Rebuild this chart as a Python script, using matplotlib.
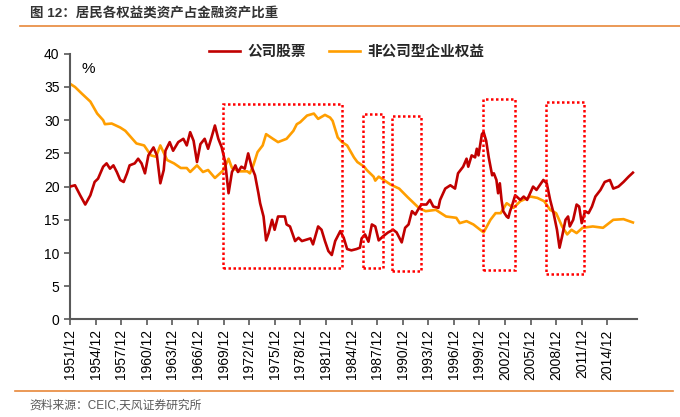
import matplotlib
matplotlib.use("Agg")
import matplotlib.pyplot as plt
from matplotlib.patches import Rectangle

plt.rcParams['font.family'] = ['Liberation Sans', 'Noto Sans CJK SC']

# share of corporate equities (%)
stock_years = [
    1951.9, 1952.5, 1953.1, 1953.7, 1954.3, 1954.8, 1955.2, 1955.8, 1956.2, 1956.6,
    1957.0, 1957.4, 1957.8, 1958.2, 1958.6, 1958.9, 1959.5, 1959.9, 1960.3, 1960.7,
    1961.1, 1961.7, 1962.1, 1962.5, 1962.9, 1963.1, 1963.6, 1964.0, 1964.6, 1965.2,
    1965.6, 1966.0, 1966.4, 1966.8, 1967.2, 1967.7, 1968.1, 1968.5, 1968.9, 1969.3,
    1969.7, 1970.1, 1970.5, 1970.9, 1971.3, 1971.6, 1972.0, 1972.4, 1972.8, 1973.2,
    1973.6, 1974.0, 1974.2, 1974.6, 1974.9, 1975.2, 1975.6, 1975.9, 1976.3, 1977.1,
    1977.3, 1977.7, 1978.3, 1978.7, 1979.1, 1980.1, 1980.4, 1981.0, 1981.4, 1981.8,
    1982.2, 1982.6, 1983.0, 1983.6, 1984.0, 1984.4, 1984.9, 1985.5, 1985.9, 1986.1,
    1986.5, 1986.9, 1987.3, 1987.7, 1988.1, 1988.6, 1989.2, 1989.8, 1990.2, 1990.8,
    1991.2, 1991.6, 1992.0, 1992.4, 1992.7, 1993.1, 1993.7, 1994.1, 1994.5, 1995.1,
    1995.3, 1995.9, 1996.5, 1997.05, 1997.4, 1998.0, 1998.4, 1998.6, 1999.0, 1999.4,
    1999.6, 1999.8, 2000.2, 2000.4, 2000.7, 2001.0, 2001.4, 2001.6, 2001.9, 2002.1,
    2002.3, 2002.5, 2002.7, 2003.1, 2003.3, 2003.5, 2003.7, 2004.1, 2004.7, 2005.1,
    2005.5, 2006.2, 2006.6, 2007.4, 2007.8, 2008.2, 2008.6, 2009.0, 2009.3, 2009.6,
    2010.0, 2010.3, 2010.5, 2010.9, 2011.3, 2011.6, 2011.9, 2012.3, 2012.7, 2013.1,
    2013.5, 2014.1, 2014.6, 2015.2, 2015.6, 2016.2, 2016.8, 2017.4, 2017.9,
]
stock_share = [
    20.0, 20.2, 18.7, 17.3, 18.7, 20.7, 21.2, 23.0, 23.5, 22.7,
    23.2, 22.2, 21.0, 20.7, 22.0, 23.2, 23.5, 24.2, 23.5, 22.0,
    24.7, 25.9, 24.7, 20.5, 22.5, 25.4, 26.7, 25.4, 26.7, 27.2,
    26.2, 28.2, 26.9, 23.7, 26.4, 27.2, 25.7, 27.4, 29.2, 27.2,
    25.9, 23.7, 19.0, 22.2, 23.2, 22.2, 23.0, 22.7, 25.0, 23.0,
    21.7, 19.0, 17.5, 15.5, 11.9, 13.0, 15.0, 13.5, 15.5, 15.5,
    14.3, 14.0, 11.8, 12.3, 11.8, 12.2, 11.3, 14.0, 13.5, 11.8,
    10.3, 9.7, 11.8, 13.3, 12.3, 10.6, 10.4, 10.6, 10.8, 12.2,
    12.8, 11.7, 14.3, 14.0, 11.9, 12.5, 13.1, 13.5, 13.1, 11.6,
    13.8, 14.3, 16.3, 15.8, 16.5, 17.3, 17.3, 18.0, 17.0, 16.8,
    18.0, 19.7, 20.2, 19.7, 22.0, 23.0, 24.2, 23.0, 24.7, 24.4,
    25.7, 24.7, 27.9, 28.2, 26.9, 24.4, 21.7, 22.0, 21.0, 19.0,
    20.5, 18.0, 16.3, 15.5, 15.3, 16.3, 17.0, 18.7, 18.0, 18.5,
    18.0, 20.0, 19.5, 21.0, 20.5, 18.0, 16.0, 13.5, 10.8, 12.5,
    15.0, 15.5, 14.0, 15.0, 17.3, 17.0, 14.5, 16.3, 16.0, 17.0,
    18.5, 19.5, 20.7, 21.0, 19.7, 20.0, 20.7, 21.5, 22.1,
]

# share of non-corporate business equity (%)
noncorp_years = [
    1951.9, 1952.5, 1953.3, 1954.3, 1955.1, 1955.8, 1956.0, 1956.8, 1957.8, 1958.4,
    1959.7, 1960.6, 1961.4, 1962.0, 1962.5, 1963.3, 1964.1, 1964.9, 1965.6, 1966.0,
    1966.8, 1967.5, 1968.1, 1968.9, 1969.5, 1969.9, 1970.5, 1970.9, 1971.8, 1972.7,
    1973.0, 1973.4, 1973.9, 1974.5, 1974.9, 1975.7, 1976.3, 1977.3, 1978.1, 1978.5,
    1978.9, 1979.7, 1980.5, 1981.0, 1981.8, 1982.4, 1982.7, 1983.3, 1983.8, 1984.4,
    1985.2, 1985.6, 1986.4, 1986.7, 1987.5, 1987.7, 1988.1, 1988.7, 1989.5, 1990.5,
    1991.5, 1992.8, 1993.6, 1994.8, 1996.0, 1997.2, 1997.6, 1998.4, 1999.2, 2000.4,
    2001.2, 2001.8, 2002.4, 2003.1, 2003.9, 2004.7, 2005.9, 2006.7, 2007.5, 2008.2,
    2008.9, 2009.6, 2010.2, 2010.7, 2011.3, 2012.0, 2013.2, 2014.4, 2015.6, 2016.8,
    2017.9,
]
noncorp_share = [
    35.5, 35.0, 34.0, 32.8, 31.0, 30.0, 29.4, 29.5, 28.9, 28.4,
    26.5, 26.2, 24.7, 24.5, 26.2, 24.0, 23.5, 22.8, 22.8, 22.2,
    23.2, 22.2, 22.5, 21.3, 22.0, 22.5, 24.2, 22.8, 22.3, 22.3,
    22.0, 23.2, 25.2, 26.2, 27.9, 27.2, 26.7, 27.2, 28.4, 29.4,
    29.7, 30.7, 31.0, 30.2, 30.8, 30.4, 29.9, 27.4, 26.7, 26.2,
    24.4, 23.7, 23.0, 22.5, 21.5, 20.9, 21.5, 21.0, 20.3, 19.7,
    18.4, 16.8, 16.3, 16.5, 15.5, 15.3, 14.5, 14.8, 14.3, 13.1,
    15.0, 16.0, 16.0, 17.5, 16.8, 17.8, 18.5, 18.3, 17.8, 16.5,
    16.0, 14.0, 12.8, 13.5, 13.0, 13.8, 14.0, 13.8, 15.0, 15.1,
    14.6,
]

tick_years = list(range(1951, 2015, 3))
tick_labels = [f"{y}/12" for y in tick_years]

# dotted boxes: (start year, end year, low %, high %)
highlight_boxes = [
    (1969.9, 1983.8, 7.8, 32.5),
    (1986.3, 1988.6, 7.7, 30.9),
    (1989.7, 1993.1, 7.3, 30.6),
    (2000.3, 2004.1, 7.5, 33.2),
    (2007.7, 2012.2, 6.9, 32.8),
]

red = '#C00000'
orange = '#FF9E00'
axis_grey = '#595959'

fig = plt.figure(figsize=(6.8, 4.17), dpi=100)
ax = fig.add_axes([0.103, 0.234, 0.834, 0.637])

ax.plot(stock_years, stock_share, color=red, lw=1.9, label='公司股票', zorder=3)
ax.plot(noncorp_years, noncorp_share, color=orange, lw=1.9, label='非公司型企业权益', zorder=2)

for x0, x1, y0, y1 in highlight_boxes:
    ax.add_patch(Rectangle((x0, y0), x1 - x0, y1 - y0, fill=False,
                           edgecolor='#FF0000', lw=1.8, linestyle=(0, (1, 1)),
                           zorder=4, clip_on=False))

ax.set_xlim(1951 + 11 / 12, 2018.4)
ax.set_ylim(0, 40)
ax.set_yticks(range(0, 41, 5))
ax.set_xticks([y + 11 / 12 for y in tick_years])
ax.set_xticklabels(tick_labels, rotation=90, fontsize=10)
ax.tick_params(axis='y', labelsize=10, direction='out', length=4, color=axis_grey, width=1.2)
ax.tick_params(axis='x', direction='out', length=4, color=axis_grey, width=1.2, pad=3)

for side in ['top', 'right']:
    ax.spines[side].set_visible(False)
for side in ['left', 'bottom']:
    ax.spines[side].set_color(axis_grey)
    ax.spines[side].set_linewidth(1.5)

ax.text(0.02, 0.97, '%', transform=ax.transAxes, fontsize=11, va='top', ha='left')

fig.legend(loc='center', bbox_to_anchor=(0.51, 0.875), ncol=2, frameon=False,
           prop={'size': 10.5, 'weight': 'bold'}, labelcolor='#262626',
           handlelength=2.1, columnspacing=1.6, handletextpad=0.5)

# header and footer
fig.text(0.044, 0.968, '图 12：居民各权益类资产占金融资产比重', fontsize=9.7,
         fontweight='bold', color='#333333', va='center', ha='left')
fig.add_artist(plt.Line2D([0.03, 1.0], [0.938, 0.938], color='#E8873A', lw=1.2))
fig.add_artist(plt.Line2D([0.022, 0.99], [0.062, 0.062], color='#E8873A', lw=1.2))
fig.text(0.044, 0.028, '资料来源：CEIC,天风证券研究所', fontsize=8.5, color='#595959',
         va='center', ha='left')

fig.savefig('out.png', dpi=100)
